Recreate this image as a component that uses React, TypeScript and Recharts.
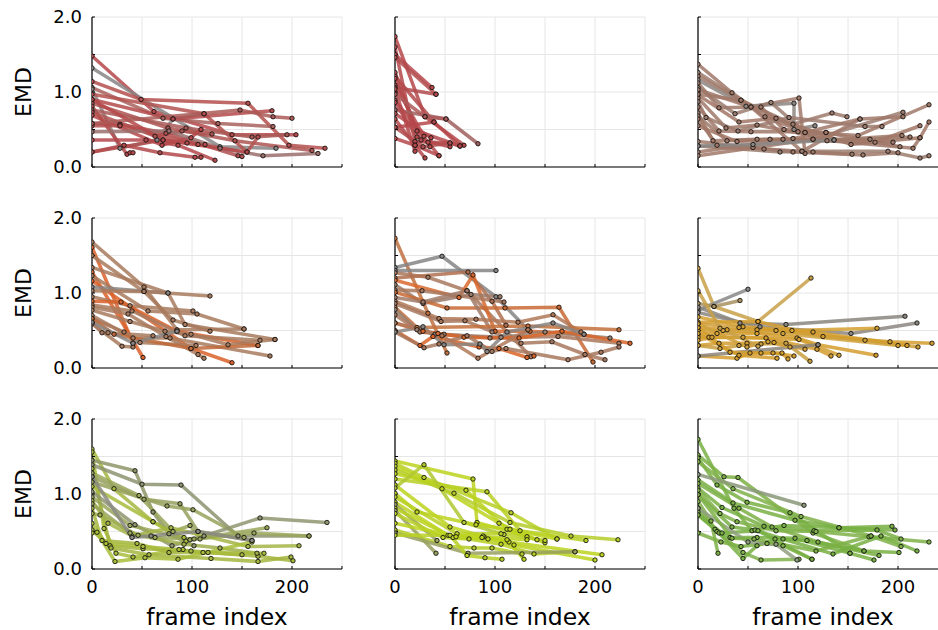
import React from 'react';
import { LineChart, Line, XAxis, YAxis, CartesianGrid } from 'recharts';

// each track: frame, EMD, frame, EMD, ...
const redA = [
  [0, 1.48, 62, 0.74, 140, 0.43, 204, 0.43],
  [0, 1.32, 128, 0.27, 184, 0.25],
  [0, 1.14, 49, 0.9, 156, 0.85, 197, 0.29, 233, 0.25],
  [0, 1.06, 71, 0.65, 126, 0.58, 181, 0.54],
  [0, 1.04, 28, 0.25, 65, 0.36, 81, 0.64, 112, 0.71],
  [0, 0.97, 112, 0.71, 155, 0.2, 166, 0.4],
  [0, 0.9, 81, 0.64, 180, 0.75],
  [0, 0.85, 76, 0.52, 143, 0.35, 220, 0.22],
  [0, 0.81, 35, 0.17, 38, 0.19, 41, 0.19],
  [0, 0.76, 94, 0.52, 160, 0.4, 195, 0.43],
  [0, 0.73, 63, 0.41, 90, 0.48, 120, 0.44],
  [0, 0.69, 70, 0.29, 99, 0.39, 109, 0.5],
  [0, 0.58, 28, 0.57, 74, 0.45, 146, 0.15, 150, 0.14],
  [0, 0.55, 28, 0.55, 106, 0.3, 113, 0.3],
  [0, 0.47, 77, 0.48, 128, 0.25, 171, 0.15, 226, 0.18],
  [0, 0.36, 54, 0.36, 86, 0.29, 123, 0.09],
  [0, 0.2, 32, 0.29, 68, 0.19, 103, 0.13, 109, 0.13],
  [0, 0.2, 71, 0.36, 95, 0.32],
  [0, 0.9, 71, 0.36, 155, 0.2],
  [0, 0.58, 148, 0.76, 181, 0.67, 200, 0.65],
];

const redB = [
  [0, 1.74, 30, 0.67, 69, 0.29],
  [0, 1.6, 20, 0.34, 55, 0.32],
  [0, 1.5, 37, 1.06],
  [0, 1.46, 41, 0.97],
  [0, 1.26, 22, 0.48, 65, 0.28],
  [0, 1.21, 39, 0.6],
  [0, 1.18, 26, 0.36, 55, 0.27],
  [0, 1.09, 29, 0.41],
  [0, 1.06, 41, 0.97],
  [0, 1.04, 20, 0.21],
  [0, 0.76, 51, 0.64, 83, 0.31],
  [0, 0.89, 33, 0.33, 44, 0.15],
  [0, 0.86, 22, 0.4],
  [0, 0.97, 30, 0.67, 51, 0.64],
  [0, 0.71, 36, 0.39, 35, 0.27],
  [0, 0.64, 20, 0.29, 30, 0.12],
  [0, 0.53, 28, 0.27, 55, 0.32, 65, 0.28],
  [0, 0.38, 20, 0.29, 44, 0.15],
  [0, 0.53, 39, 0.6, 65, 0.28],
];

const brownA = [
  [0, 1.37, 34, 0.99, 67, 0.67, 107, 0.46],
  [0, 1.26, 43, 0.89, 95, 0.57, 134, 0.72, 149, 0.67],
  [0, 1.21, 53, 0.8, 101, 0.92, 107, 0.18],
  [0, 1.16, 48, 0.81, 96, 0.85, 96, 0.5, 117, 0.55],
  [0, 1.12, 21, 0.79, 63, 0.8, 86, 0.5, 128, 0.46],
  [0, 1.06, 37, 0.71, 73, 0.86, 115, 0.37, 205, 0.73],
  [0, 1.03, 53, 0.8, 104, 0.21, 162, 0.64, 205, 0.67],
  [0, 0.96, 41, 0.6, 78, 0.65, 153, 0.3, 222, 0.39, 231, 0.6],
  [0, 0.92, 28, 0.52, 59, 0.56, 136, 0.36, 204, 0.42],
  [0, 0.87, 8, 0.66, 40, 0.48, 91, 0.66, 167, 0.54, 184, 0.54],
  [0, 0.8, 21, 0.48, 53, 0.47, 100, 0.47, 160, 0.42, 231, 0.83],
  [0, 0.72, 15, 0.35, 59, 0.37, 129, 0.35, 195, 0.33],
  [0, 0.68, 29, 0.35, 72, 0.37, 172, 0.37, 212, 0.4],
  [0, 0.64, 19, 0.29, 66, 0.24, 115, 0.2, 154, 0.17],
  [0, 0.55, 39, 0.34, 85, 0.37, 177, 0.33, 222, 0.55],
  [0, 0.34, 55, 0.26, 95, 0.2, 165, 0.16, 200, 0.19],
  [0, 0.28, 82, 0.2, 104, 0.21, 190, 0.21, 222, 0.12, 231, 0.15],
  [0, 0.2, 95, 0.38, 128, 0.46, 202, 0.27],
  [0, 0.15, 115, 0.37, 215, 0.25, 222, 0.39],
  [0, 0.28, 55, 0.3, 136, 0.36],
  [0, 0.97, 43, 0.89, 107, 0.46, 162, 0.64],
];

const orangeA = [
  [0, 1.68, 52, 1.08, 85, 0.51, 152, 0.52],
  [0, 1.61, 41, 0.33],
  [0, 1.5, 52, 1.02, 81, 0.64, 118, 0.49],
  [0, 1.34, 76, 1.0, 93, 0.58, 183, 0.38],
  [0, 1.28, 51, 0.14],
  [0, 1.23, 56, 0.76, 105, 0.72, 152, 0.52],
  [0, 1.16, 99, 0.26, 140, 0.07],
  [0, 1.08, 76, 1.0],
  [0, 1.03, 52, 1.02, 118, 0.96],
  [0, 0.95, 38, 0.83, 101, 0.76],
  [0, 0.89, 29, 0.88, 85, 0.49, 166, 0.3],
  [0, 0.84, 40, 0.76, 93, 0.43, 168, 0.37],
  [0, 0.81, 36, 0.72, 74, 0.42, 106, 0.18, 112, 0.13],
  [0, 0.77, 38, 0.62, 73, 0.49, 99, 0.45, 136, 0.31, 183, 0.38],
  [0, 0.7, 41, 0.4, 78, 0.4, 178, 0.16],
  [0, 0.66, 32, 0.48, 48, 0.34, 104, 0.3],
  [0, 0.61, 10, 0.47, 16, 0.47, 61, 0.43],
  [0, 0.59, 30, 0.29, 41, 0.28],
  [0, 0.66, 22, 0.45, 99, 0.26, 166, 0.3],
  [0, 0.61, 41, 0.33, 85, 0.49],
];

const orangeB = [
  [0, 1.73, 33, 0.73, 52, 0.2],
  [0, 1.34, 47, 1.49, 101, 0.95, 133, 0.51],
  [0, 1.3, 101, 1.3],
  [0, 1.27, 33, 1.21, 72, 1.03, 136, 0.15],
  [0, 1.2, 73, 1.28, 97, 0.89, 111, 0.57],
  [0, 1.17, 64, 0.94, 78, 1.24, 100, 0.49, 135, 0.49, 189, 0.45],
  [0, 1.11, 28, 0.86, 76, 0.98, 105, 0.95],
  [0, 1.04, 27, 1.03, 109, 0.88],
  [0, 1.01, 52, 0.8, 110, 0.8, 164, 0.81, 198, 0.08],
  [0, 0.94, 28, 0.88, 72, 1.03, 97, 0.48],
  [0, 0.89, 44, 0.66, 81, 0.65, 123, 0.61, 158, 0.71, 186, 0.48],
  [0, 0.86, 46, 0.62, 70, 0.63, 126, 0.33, 157, 0.35, 190, 0.18, 210, 0.11],
  [0, 0.81, 22, 0.54, 133, 0.56, 224, 0.51],
  [0, 0.78, 22, 0.51, 40, 0.45, 106, 0.41, 150, 0.48, 215, 0.4],
  [0, 0.71, 25, 0.48, 49, 0.45, 95, 0.4, 163, 0.42, 224, 0.33],
  [0, 0.6, 28, 0.49, 43, 0.46, 69, 0.41, 124, 0.4, 167, 0.49, 235, 0.33],
  [0, 0.5, 25, 0.3, 38, 0.42, 84, 0.28, 104, 0.26, 132, 0.14, 139, 0.16],
  [0, 0.48, 29, 0.27, 44, 0.32, 72, 0.43, 97, 0.22, 111, 0.26, 173, 0.11, 206, 0.21, 224, 0.28],
  [0, 0.48, 28, 0.55, 49, 0.31, 85, 0.32, 92, 0.22, 112, 0.48, 158, 0.6, 189, 0.45],
  [0, 0.6, 47, 0.43, 83, 0.13, 133, 0.51],
];

const gold = [
  [0, 1.33, 16, 0.82, 60, 0.62, 113, 1.2],
  [0, 0.77, 50, 1.05],
  [0, 0.86, 16, 0.82, 42, 0.9],
  [0, 0.81, 42, 0.6, 88, 0.58, 207, 0.69],
  [0, 0.74, 62, 0.55, 153, 0.46, 219, 0.6],
  [0, 0.68, 45, 0.55, 94, 0.5, 179, 0.53],
  [0, 0.61, 60, 0.62, 125, 0.42, 192, 0.35, 234, 0.33],
  [0, 0.59, 41, 0.54, 78, 0.5, 167, 0.37, 220, 0.28],
  [0, 0.54, 29, 0.51, 59, 0.51, 115, 0.48, 209, 0.3],
  [0, 0.5, 25, 0.5, 85, 0.46, 200, 0.3],
  [0, 0.45, 19, 0.46, 59, 0.46, 99, 0.4, 120, 0.31, 178, 0.17],
  [0, 0.41, 11, 0.41, 45, 0.41, 101, 0.38, 141, 0.17],
  [0, 0.37, 14, 0.41, 68, 0.4, 119, 0.25, 133, 0.16],
  [0, 0.3, 21, 0.33, 49, 0.33, 76, 0.34, 107, 0.25],
  [0, 0.3, 22, 0.26, 41, 0.3, 63, 0.32, 88, 0.33, 112, 0.09],
  [0, 0.16, 39, 0.13, 52, 0.2, 75, 0.2, 96, 0.16],
  [0, 0.16, 120, 0.31],
  [0, 0.54, 32, 0.21, 63, 0.2, 84, 0.2, 90, 0.12],
  [0, 0.46, 41, 0.17, 79, 0.13],
  [0, 0.59, 49, 0.28, 70, 0.35, 92, 0.28],
  [0, 1.03, 22, 0.53, 60, 0.29],
];

const olive = [
  [0, 1.6, 22, 1.07, 61, 0.63, 92, 0.42],
  [0, 1.56, 12, 0.54, 24, 0.21, 41, 0.16, 91, 0.26],
  [0, 1.45, 43, 1.31, 61, 0.76, 77, 0.47, 102, 0.31],
  [0, 1.39, 50, 1.13, 89, 1.12, 146, 0.44, 217, 0.44],
  [0, 1.34, 18, 0.31, 51, 0.27, 99, 0.24, 150, 0.19],
  [0, 1.28, 47, 0.98, 81, 0.5, 98, 0.58, 108, 0.4],
  [0, 1.23, 52, 0.93, 88, 0.87, 106, 0.5, 160, 0.38],
  [0, 1.16, 75, 0.84, 101, 0.79, 152, 0.42],
  [0, 1.1, 61, 0.63, 94, 0.37],
  [0, 1.03, 43, 0.59, 80, 0.31, 112, 0.44, 168, 0.68, 235, 0.62],
  [0, 0.96, 38, 0.58, 98, 0.39, 162, 0.48, 217, 0.44],
  [0, 0.91, 16, 0.61, 40, 0.44, 79, 0.55, 156, 0.3, 207, 0.31],
  [0, 0.87, 38, 0.48, 63, 0.42, 102, 0.4, 175, 0.55],
  [0, 0.81, 10, 0.38, 45, 0.34, 77, 0.22, 116, 0.22, 166, 0.17, 201, 0.11],
  [0, 0.74, 8, 0.72, 46, 0.45, 92, 0.33, 128, 0.28, 165, 0.21],
  [0, 0.61, 14, 0.34, 51, 0.3, 87, 0.26, 111, 0.22, 172, 0.21],
  [0, 0.52, 19, 0.28, 57, 0.19, 119, 0.14, 166, 0.1, 199, 0.16],
  [0, 0.48, 5, 0.49, 23, 0.1, 53, 0.15, 86, 0.13, 160, 0.36],
  [0, 1.23, 40, 0.42, 59, 0.44, 106, 0.5, 160, 0.38],
];

const lime = [
  [0, 1.44, 78, 1.2, 82, 0.62, 132, 0.43],
  [0, 1.41, 29, 1.22, 116, 0.75, 162, 0.4],
  [0, 1.37, 47, 1.07, 104, 0.61, 142, 0.39],
  [0, 1.32, 59, 1.01, 115, 0.62, 176, 0.44, 223, 0.39],
  [0, 1.27, 71, 1.05, 112, 0.53, 150, 0.35],
  [0, 1.2, 92, 1.03, 125, 0.51, 191, 0.38],
  [0, 1.12, 55, 0.56, 89, 0.43, 132, 0.39],
  [0, 1.08, 29, 1.39, 69, 0.62, 109, 0.46],
  [0, 1.01, 22, 0.76, 81, 0.59, 115, 0.53, 162, 0.4],
  [0, 0.96, 62, 0.47, 106, 0.47, 150, 0.38],
  [0, 0.89, 53, 0.45, 88, 0.44, 119, 0.32, 200, 0.12],
  [0, 0.86, 42, 0.38],
  [0, 0.81, 58, 0.42, 93, 0.4, 114, 0.36, 207, 0.19],
  [0, 0.78, 41, 0.21],
  [0, 0.74, 48, 0.42, 74, 0.4, 106, 0.33, 139, 0.2, 180, 0.23],
  [0, 0.61, 61, 0.43, 87, 0.42, 112, 0.39, 129, 0.13],
  [0, 0.52, 55, 0.3, 79, 0.28, 97, 0.28, 127, 0.2],
  [0, 0.48, 73, 0.21, 180, 0.23],
  [0, 0.45, 55, 0.45, 72, 0.18, 90, 0.15, 107, 0.13],
];

const green = [
  [0, 1.73, 36, 0.81, 54, 0.51, 86, 0.58, 141, 0.55, 197, 0.52],
  [0, 1.52, 26, 1.23, 40, 1.22, 115, 0.48, 166, 0.24],
  [0, 1.48, 19, 1.12, 49, 0.89, 92, 0.75, 152, 0.21],
  [0, 1.43, 35, 1.07, 103, 0.7, 173, 0.44, 203, 0.3],
  [0, 1.26, 106, 0.85],
  [0, 1.19, 35, 0.88, 97, 0.65, 141, 0.55, 194, 0.57],
  [0, 1.14, 41, 0.81, 74, 0.56, 120, 0.36, 181, 0.18],
  [0, 1.08, 24, 0.82, 66, 0.57, 116, 0.51, 179, 0.52, 203, 0.4],
  [0, 1.05, 22, 0.74, 39, 0.63, 78, 0.51, 118, 0.5, 171, 0.43, 231, 0.36],
  [0, 0.99, 34, 0.56, 57, 0.52, 85, 0.4, 135, 0.2, 183, 0.44, 219, 0.24],
  [0, 0.9, 13, 0.64, 20, 0.21],
  [0, 0.81, 17, 0.53, 32, 0.42, 59, 0.42, 97, 0.41, 152, 0.21, 176, 0.12],
  [0, 0.76, 19, 0.5, 45, 0.22, 63, 0.12, 101, 0.13],
  [0, 0.72, 21, 0.48, 45, 0.14, 59, 0.31, 77, 0.4, 109, 0.38, 166, 0.24, 201, 0.22],
  [0, 0.48, 23, 0.36, 43, 0.3, 69, 0.34, 85, 0.31, 114, 0.13],
  [0, 0.72, 24, 0.48, 60, 0.51, 114, 0.13],
  [0, 0.81, 50, 0.36, 78, 0.33, 99, 0.12],
  [0, 0.99, 34, 0.41, 56, 0.4, 118, 0.24, 173, 0.44],
];

const yTicks = [0, 0.5, 1, 1.5, 2];
const xTicks = [0, 50, 100, 150, 200, 250];

// colour of each track, same order as the tracks
const redAColors = ['#b5484b', '#878585', '#b4504f', '#a8625e', '#8a8686', '#b3524f', '#b44a4b', '#ad5552', '#b5484a', '#a95a57', '#ae5450', '#b6474a', '#b14e4d', '#b34d4c', '#9a6f6c', '#b5484b', '#b3494b', '#b14c4c', '#b5484a', '#aa5a57'];
const redBColors = ['#b5484b', '#b4494c', '#b5484b', '#b14c4d', '#b5484b', '#b34a4c', '#b5484b', '#b5484b', '#b24b4d', '#b5484b', '#a0605f', '#b5484b', '#b34a4c', '#ad5a5a', '#b5484b', '#b5484b', '#b14c4d', '#b5484b', '#b5484b'];
const brownAColors = ['#a07868', '#9e7a6c', '#a07868', '#8d8682', '#a07868', '#9b7d70', '#a07868', '#a27766', '#a07868', '#9c7b6e', '#a07868', '#a07868', '#9e7a6a', '#a07868', '#a27766', '#a07868', '#9c7c6e', '#a07868', '#a07868', '#8a8684', '#a07868'];
const orangeAColors = ['#a87a5e', '#d9612a', '#a87a5e', '#a87a5e', '#d9612a', '#a87a5e', '#d9612a', '#8a8582', '#a87a5e', '#a87a5e', '#d9612a', '#a87a5e', '#a87a5e', '#a87a5e', '#a87a5e', '#a87a5e', '#a87a5e', '#a87a5e', '#c06a3a', '#8a8582'];
const orangeBColors = ['#c0703f', '#858585', '#858585', '#a8785e', '#b07050', '#d8682e', '#9a7a68', '#a8785e', '#c86a35', '#a07a68', '#b07858', '#a8785e', '#c2703c', '#9a8070', '#a8785e', '#d9662c', '#da6428', '#a8785e', '#8a8480', '#b0785a'];
const goldColors = ['#c8a048', '#878787', '#a89060', '#8a857e', '#8c8680', '#d4a030', '#d49d2e', '#d09e36', '#d49d2e', '#cfa03a', '#d49d2e', '#d2a034', '#d49d2e', '#d49d2e', '#c99e3e', '#d49d2e', '#8c8478', '#d49d2e', '#d49d2e', '#d0a03a', '#c8a048'];
const oliveColors = ['#a4b63e', '#a8bd3a', '#8e9668', '#8c9370', '#a4b63e', '#9aa65a', '#96a060', '#98a25c', '#a8bc3c', '#8f9670', '#9aa65a', '#a4b545', '#9aa65a', '#a4b63e', '#9fae4c', '#a8bc3c', '#a4b63e', '#a8bd3a', '#8a8a80'];
const limeColors = ['#bcd41e', '#b8d024', '#bcd41e', '#b4cc28', '#bcd41e', '#b8d024', '#bcd41e', '#b0c830', '#bcd41e', '#b8d024', '#bcd41e', '#98a060', '#bcd41e', '#98a060', '#b8d024', '#bcd41e', '#b4cc28', '#98a060', '#b8d024'];
const greenColors = ['#78b043', '#7cb045', '#78b043', '#80b24a', '#8a9878', '#78b043', '#7cb045', '#78b043', '#80b24a', '#78b043', '#7cb045', '#78b043', '#80b24a', '#78b043', '#7cb045', '#78b043', '#90a080', '#7cb045'];

const panels = [
  { tracks: redA, colors: redAColors },
  { tracks: redB, colors: redBColors },
  { tracks: brownA, colors: brownAColors },
  { tracks: orangeA, colors: orangeAColors },
  { tracks: orangeB, colors: orangeBColors },
  { tracks: gold, colors: goldColors },
  { tracks: olive, colors: oliveColors },
  { tracks: lime, colors: limeColors },
  { tracks: green, colors: greenColors },
];

const PLOT_LEFT = [92, 395, 698];
const PLOT_TOP = [17, 218, 419];
const Y_W = 92;
const TOP_M = 10;

function toPoints(flat: number[]) {
  const pts: { x: number; y: number }[] = [];
  for (let i = 0; i < flat.length; i += 2) pts.push({ x: flat[i], y: flat[i + 1] });
  return pts;
}

const EmdLabel = ({ viewBox }: any) => {
  const cy = viewBox.y + viewBox.height / 2;
  return (
    <text x={23} y={cy} transform={`rotate(-90 23 ${cy})`} textAnchor="middle" dominantBaseline="central" fontSize={22} fill="#000">
      EMD
    </text>
  );
};

const FrameLabel = ({ viewBox }: any) => (
  <text x={viewBox.x + viewBox.width / 2} y={viewBox.y + 56} textAnchor="middle" fontSize={23.5} fill="#000">
    frame index
  </text>
);

function Panel({ tracks, colors, row, col }: { tracks: number[][]; colors: string[]; row: number; col: number }) {
  const showY = col === 0;
  const showX = row === 2;
  const xh = showX ? 61 : 20;
  const width = Y_W + 250 + 10;
  const height = TOP_M + 150 + xh;
  return (
    <div style={{ position: 'absolute', left: PLOT_LEFT[col] - Y_W, top: PLOT_TOP[row] - TOP_M }}>
      <LineChart width={width} height={height} margin={{ top: TOP_M, right: 10, bottom: 0, left: 0 }}>
        <CartesianGrid stroke="#e6e6e6" strokeWidth={1} />
        <XAxis
          type="number"
          dataKey="x"
          domain={[0, 250]}
          ticks={xTicks}
          interval={0}
          allowDataOverflow
          height={xh}
          tickSize={-3}
          tickMargin={14}
          axisLine={{ stroke: '#000', strokeWidth: 1.2 }}
          tickLine={{ stroke: '#000' }}
          tick={{ fill: '#000', fontSize: 18 }}
          tickFormatter={(v: number) => (showX && v % 100 === 0 ? String(v) : '')}
          label={showX ? <FrameLabel /> : undefined}
        />
        <YAxis
          type="number"
          dataKey="y"
          domain={[0, 2]}
          ticks={yTicks}
          interval={0}
          allowDataOverflow
          width={Y_W}
          tickSize={-3}
          tickMargin={13}
          axisLine={{ stroke: '#000', strokeWidth: 1.2 }}
          tickLine={{ stroke: '#000' }}
          tick={{ fill: '#000', fontSize: 18 }}
          tickFormatter={(v: number) => (showY && Number.isInteger(v) ? v.toFixed(1) : '')}
          label={showY ? <EmdLabel /> : undefined}
        />
        {tracks.map((t, i) => {
          const c = colors[i % colors.length];
          return (
            <Line
              key={i}
              data={toPoints(t)}
              dataKey="y"
              type="linear"
              stroke={c}
              strokeWidth={3.5}
              strokeOpacity={0.85}
              dot={{ r: 2.2, fill: c, stroke: '#111', strokeWidth: 1, fillOpacity: 1 }}
              activeDot={false}
              isAnimationActive={false}
            />
          );
        })}
      </LineChart>
    </div>
  );
}

export default function App() {
  return (
    <div
      style={{
        position: 'absolute',
        left: 0,
        top: 0,
        width: 938,
        height: 630,
        overflow: 'hidden',
        background: '#fff',
        fontFamily: '"DejaVu Sans", sans-serif',
      }}
    >
      {panels.map((p, i) => (
        <Panel key={i} tracks={p.tracks} colors={p.colors} row={Math.floor(i / 3)} col={i % 3} />
      ))}
    </div>
  );
}
